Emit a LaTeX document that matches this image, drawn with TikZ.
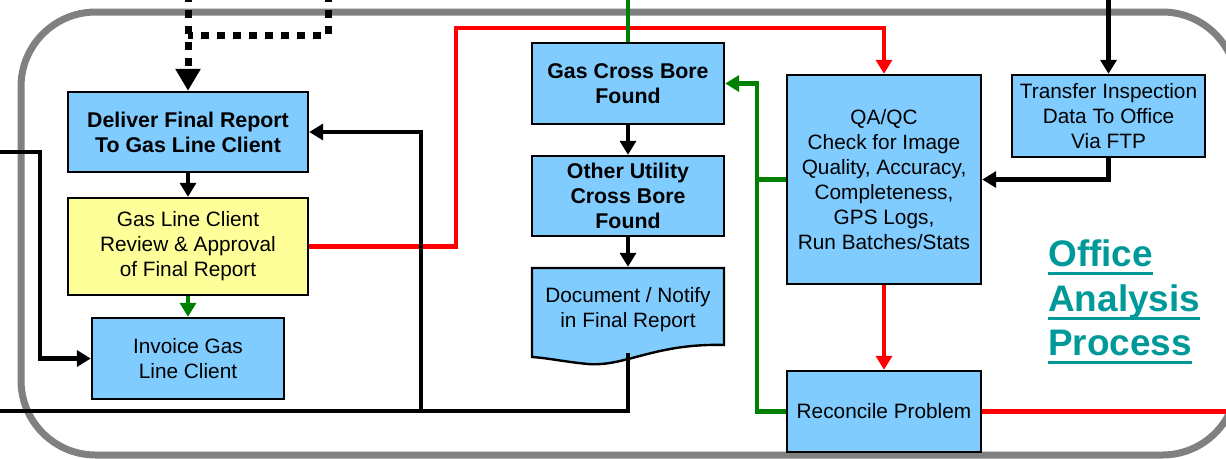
\documentclass[tikz,border=0pt]{standalone}
\usepackage{fontspec}
\setmainfont{Liberation Sans}
\usetikzlibrary{arrows.meta}

\definecolor{boxblue}{HTML}{80CCFF}
\definecolor{boxyellow}{HTML}{FFFF99}
\definecolor{flowgreen}{HTML}{008000}
\definecolor{flowred}{HTML}{FF0000}
\definecolor{titleteal}{HTML}{009999}
\definecolor{framegray}{HTML}{808080}

\begin{document}
\begin{tikzpicture}[x=0.75pt,y=-0.75pt,
  sz/.style 2 args={minimum width=#1*0.75pt, minimum height=#2*0.75pt},
  box/.style={draw=black, line width=1.8pt, fill=boxblue, align=center,
    inner sep=0pt, font=\fontsize{15.6}{18.75}\selectfont},
  boldbox/.style={box, font=\fontsize{16}{18.75}\selectfont\bfseries},
  conn/.style={line width=3.4pt},
  blk/.style={conn, draw=black},
  redflow/.style={conn, draw=flowred},
  greenflow/.style={conn, draw=flowgreen},
  tip/.style={-{Triangle[width=12pt,length=10.5pt]}},
  dotflow/.style={draw=black, line width=5.25pt, dash pattern=on 6pt off 6pt},
  bigtip/.style={-{Triangle[width=18pt,length=16.5pt]}},
  titletext/.style={text=titleteal, inner sep=0pt, anchor=base west,
    font=\fontsize{27.7}{33.75}\selectfont\bfseries},
  underline/.style={draw=titleteal, line width=2.6pt}
]
\useasboundingbox (0,0) rectangle (1226,458);

% outer frame of the process area
\draw[framegray, line width=5.25pt, rounded corners=56pt] (21,12) rectangle (1237,455);

% document shape with wavy bottom edge
\draw[draw=black, line width=1.8pt, fill=boxblue]
  (532,268) -- (724,268) -- (724,345)
  .. controls (655,343) and (625,367) .. (588,364)
  .. controls (566,362) and (548,358) .. (532,357) -- cycle;

% process boxes
\node[boldbox, sz={240}{80}] (deliver) at (188,132) {Deliver Final Report\\To Gas Line Client};
\node[box, fill=boxyellow, sz={240}{97}] (review) at (188,246.5) {Gas Line Client\\Review \& Approval\\of Final Report};
\node[box, sz={192}{81}] (invoice) at (188,358.5) {Invoice Gas\\Line Client};
\node[boldbox, sz={192}{81}] (gascross) at (628,83.5) {Gas Cross Bore\\Found};
\node[boldbox, sz={192}{80}] (other) at (628,196) {Other Utility\\Cross Bore\\Found};
\node[box, draw=none, fill=none, sz={192}{83}] (doc) at (628,309.5) {Document / Notify\\in Final Report};
\node[box, sz={194}{209}] (qaqc) at (884,179.5) {QA/QC\\Check for Image\\Quality, Accuracy,\\Completeness,\\GPS Logs,\\Run Batches/Stats};
\node[box, sz={193}{82}] (transfer) at (1108.5,116) {Transfer Inspection\\Data To Office\\Via FTP};
\node[box, sz={194}{81}] (reconcile) at (884,411.5) {Reconcile Problem};

% title
\node[titletext] (t1) at (1048,266) {Office};
\node[titletext] (t2) at (1048,311) {Analysis};
\node[titletext] (t3) at (1048,355) {Process};
\foreach \t in {t1,t2,t3}
  \draw[underline] ([yshift=-5.5pt]\t.base west) -- ([yshift=-5.5pt]\t.base east);

% free ends of connectors leaving the picture
\coordinate (dotA) at (188,-6);
\coordinate (dotB) at (328,-6);
\coordinate (greenin) at (628,-6);
\coordinate (ftpin) at (1108.5,-6);
\coordinate (leftin) at (-6,152);
\coordinate (leftout) at (-6,411);
\coordinate (rightout) at (1232,411.5);
\coordinate (docb) at (628,353);

% dotted inputs at the top left
\draw[dotflow] (dotB) |- (188,35);
\draw[dotflow, bigtip] (dotA) -- (deliver.north);

% left column
\draw[blk, tip] (deliver) -- (review);
\draw[greenflow, tip] (review) -- (invoice);
\draw[blk, tip] (leftin) -| (40,358.5) -- (invoice.west);
\draw[redflow, tip] (review.east) -| (456,28) -| (qaqc.north);

% middle column
\draw[greenflow] (greenin) -- (gascross.north);
\draw[blk, tip] (gascross) -- (other);
\draw[blk, tip] (other.south) -- (doc.north);
\draw[blk] (docb) |- (leftout);
\draw[blk, tip] (421,411) |- (deliver.east);

% right column
\draw[blk, tip] (ftpin) -- (transfer.north);
\draw[blk, tip] (transfer.south) |- (qaqc.east);
\draw[redflow, tip] (qaqc) -- (reconcile);
\draw[redflow] (reconcile.east) -- (rightout);
\draw[greenflow, tip] (reconcile.west) -| (757,83.5) -- (gascross.east);
\draw[greenflow] (qaqc.west) -- (757,179.5);
\end{tikzpicture}
\end{document}
